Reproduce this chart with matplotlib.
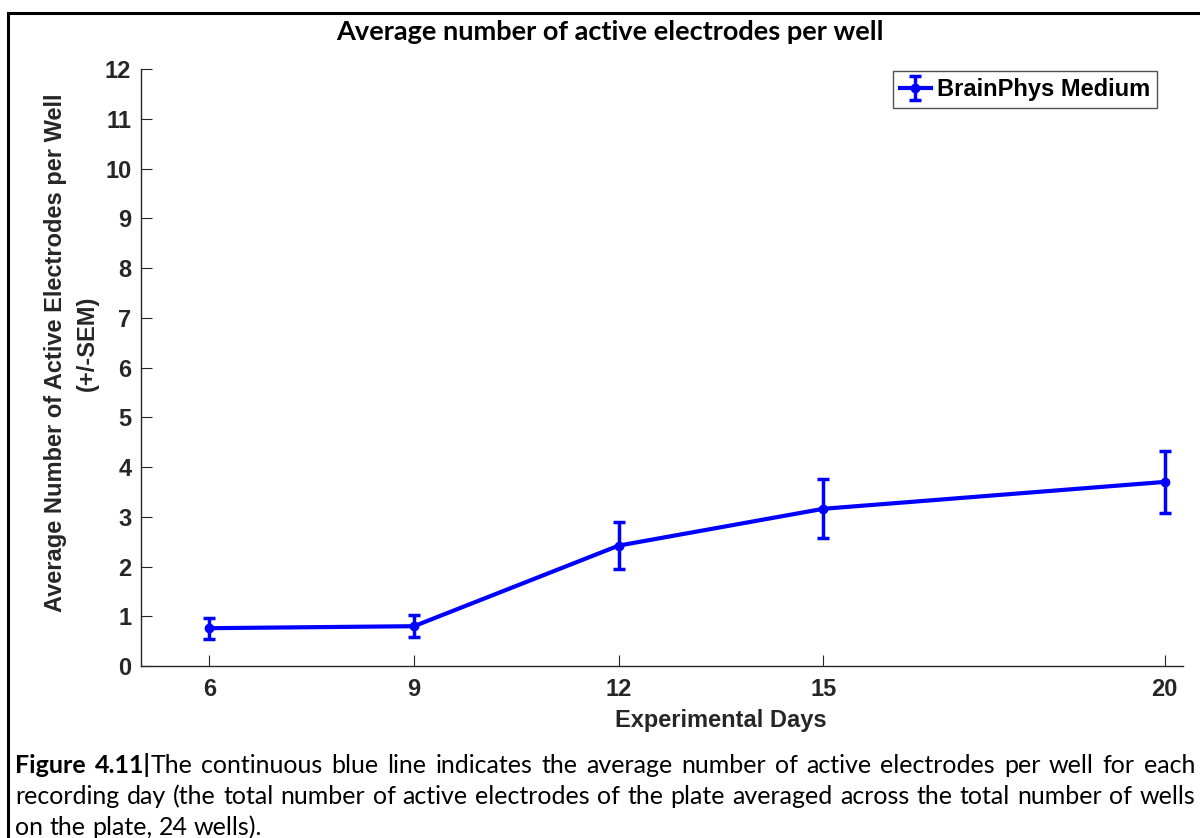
import matplotlib
matplotlib.use("Agg")
import matplotlib.pyplot as plt
from matplotlib.lines import Line2D

# Recording days and per-well averages of active electrodes (+/- SEM)
days = [6, 9, 12, 15, 20]
mean_active = [0.76, 0.80, 2.42, 3.16, 3.70]
sem_active = [0.21, 0.22, 0.48, 0.59, 0.63]
x_ticks = [6, 9, 12, 15, 20]
y_ticks = list(range(0, 13))
series_label = "BrainPhys Medium"

title_text = "Average number of active electrodes per well"
caption_lines = [
    [[("Figure", "bold")], [("4.11|", "bold"), ("The", "normal")],
     "continuous blue line indicates the average number of active electrodes per well for each"],
    "recording day (the total number of active electrodes of the plate averaged across the total number of wells",
    "on the plate, 24 wells).",
]

W, H = 1200, 838
AXIS_GRAY = "#262626"
SANS = ["Liberation Sans", "DejaVu Sans"]
DOC = ["Lato", "DejaVu Sans"]
FS = 17

fig = plt.figure(figsize=(W / 100, H / 100), dpi=100)
fig.patch.set_facecolor("white")

ax_left, ax_right, ax_top, ax_bottom = 141, 1183, 69, 666
ax = fig.add_axes([ax_left / W, 1 - ax_bottom / H,
                   (ax_right - ax_left) / W, (ax_bottom - ax_top) / H])

ax.errorbar(days, mean_active, yerr=sem_active, color="#0000ff", lw=3,
            marker="o", ms=6, capsize=4, capthick=2.5, elinewidth=2.5,
            label=series_label)

ax.set_xlim(5, 20.27)
ax.set_ylim(0, 12)
ax.set_xticks(x_ticks)
ax.set_yticks(y_ticks)
for side in ("top", "right"):
    ax.spines[side].set_visible(False)
for side in ("left", "bottom"):
    ax.spines[side].set_color(AXIS_GRAY)
    ax.spines[side].set_linewidth(1.0)

ax.tick_params(axis="both", direction="in", length=8, width=0.8,
               color=AXIS_GRAY, labelcolor=AXIS_GRAY)
ax.tick_params(axis="x", pad=9)
ax.tick_params(axis="y", pad=7)
for lab in ax.get_xticklabels() + ax.get_yticklabels():
    lab.set_fontfamily(SANS)
    lab.set_fontweight("bold")
    lab.set_fontsize(FS)

ax.set_xlabel("Experimental Days", fontsize=FS, fontweight="bold",
              family=SANS, color=AXIS_GRAY)
ax.xaxis.set_label_coords((721 - ax_left) / (ax_right - ax_left),
                          (ax_bottom - 709) / (ax_bottom - ax_top))

fig.text(56 / W, 1 - 353 / H, "Average Number of Active Electrodes per Well",
         rotation=90, ha="center", va="center", fontsize=FS,
         fontweight="bold", family=SANS, color=AXIS_GRAY)
fig.text(87 / W, 1 - 343 / H, "(+/-SEM)", rotation=90, ha="center",
         va="center", fontsize=FS, fontweight="bold", family=SANS,
         color=AXIS_GRAY)

leg = ax.legend(loc="upper right", bbox_to_anchor=((1157 - ax_left) / (ax_right - ax_left),
                                                   (ax_bottom - 71) / (ax_bottom - ax_top)),
                prop={"family": SANS, "weight": "bold", "size": FS},
                frameon=True, fancybox=False, borderpad=0.3,
                handlelength=1.3, handletextpad=0.25, borderaxespad=0)
leg.get_frame().set_edgecolor(AXIS_GRAY)
leg.get_frame().set_linewidth(1.0)

fig.text(610 / W, 1 - 32 / H, title_text, ha="center", va="center",
         fontsize=19.5, fontweight="bold", family=DOC, color="black")

# Page frame around the figure
fig.add_artist(Line2D([8 / W, 8 / W], [0, 1 - 13 / H], transform=fig.transFigure,
                      color="black", lw=2.2, solid_capstyle="projecting"))
fig.add_artist(Line2D([8 / W, 1], [1 - 13 / H, 1 - 13 / H], transform=fig.transFigure,
                      color="black", lw=2.2, solid_capstyle="projecting"))

# Justified caption
fig.canvas.draw()
renderer = fig.canvas.get_renderer()
cap_size = 18
cap_left, cap_right = 15, 1195
baselines = [773, 804, 835]


def tokens_of(line):
    if isinstance(line, str):
        return [[(w, "normal")] for w in line.split()]
    out = []
    for part in line:
        if isinstance(part, str):
            out.extend([(w, "normal")] for w in part.split())
        else:
            out.append(part)
    return out


def place_word(x, y, segs):
    for text, weight in segs:
        t = fig.text(x / W, 1 - y / H, text, ha="left", va="baseline",
                     fontsize=cap_size, fontweight=weight, family=DOC,
                     color="black")
        x += t.get_window_extent(renderer).width
    return x


def word_width(segs):
    total = 0
    for text, weight in segs:
        t = fig.text(0, 0, text, fontsize=cap_size, fontweight=weight, family=DOC)
        total += t.get_window_extent(renderer).width
        t.remove()
    return total


space_t = fig.text(0, 0, "a a", fontsize=cap_size, family=DOC)
aa_t = fig.text(0, 0, "aa", fontsize=cap_size, family=DOC)
space_w = space_t.get_window_extent(renderer).width - aa_t.get_window_extent(renderer).width
space_t.remove()
aa_t.remove()

for i, line in enumerate(caption_lines):
    toks = tokens_of(line)
    widths = [word_width(t) for t in toks]
    if i < len(caption_lines) - 1:
        gap = (cap_right - cap_left - sum(widths)) / (len(toks) - 1)
    else:
        gap = space_w
    x = cap_left
    for tok, w in zip(toks, widths):
        place_word(x, baselines[i], tok)
        x += w + gap

fig.savefig("out.png", dpi=100, facecolor="white")
